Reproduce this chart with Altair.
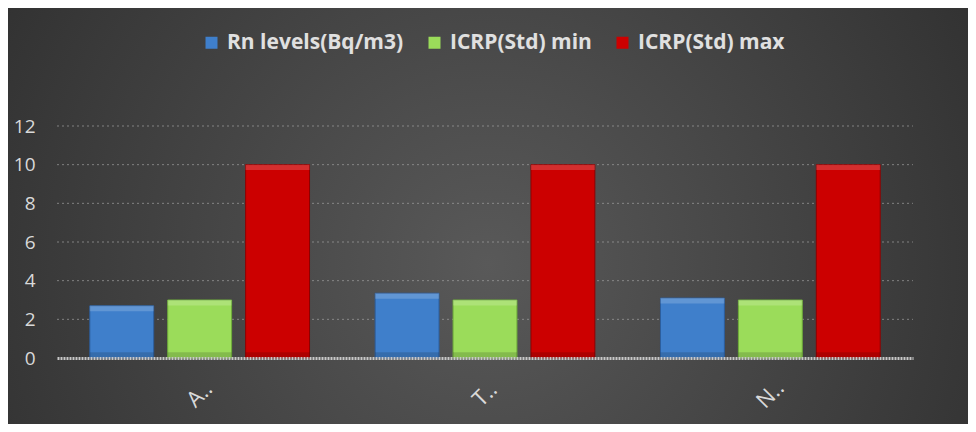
import altair as alt
import pandas as pd

groups = ["A..", "T..", "N.."]
series = ["Rn levels(Bq/m3)", "ICRP(Std) min", "ICRP(Std) max"]
rn_levels = [2.7, 3.35, 3.1]
icrp_min = [3.0, 3.0, 3.0]
icrp_max = [10.0, 10.0, 10.0]
colors = ["#3f7fcb", "#9bdc5a", "#cc0000"]
strokes = ["#2c5e9e", "#6fae3a", "#8f0000"]
y_ticks = [0, 2, 4, 6, 8, 10, 12]

rows = []
for i, g in enumerate(groups):
    for s, vals in zip(series, [rn_levels, icrp_min, icrp_max]):
        rows.append({"group": g, "series": s, "value": vals[i]})
df = pd.DataFrame(rows)
grid_df = pd.DataFrame({"tick": y_ticks[1:]})

W, H = 856, 232
PL, PT, PR, PB = 49, 118, 55, 66
FONT = "Open Sans"

bg = alt.Chart(pd.DataFrame({"a": [0]})).mark_rect(
    fill={
        "gradient": "radial",
        "x1": 0.5, "y1": 0.55, "r1": 0,
        "x2": 0.5, "y2": 0.55, "r2": 0.75,
        "stops": [
            {"offset": 0, "color": "#595959"},
            {"offset": 1, "color": "#262626"},
        ],
    }
).encode(
    x=alt.value(-PL), x2=alt.value(W + PR),
    y=alt.value(-PT), y2=alt.value(H + PB),
)

y_scale = alt.Scale(domain=[0, 12], nice=False, zero=True)
x_scale = alt.Scale(paddingInner=0.23, paddingOuter=0.115)
xo_scale = alt.Scale(paddingInner=0.18, paddingOuter=0)

x_axis = alt.Axis(
    labelAngle=-45, labelAlign="center", labelBaseline="middle",
    labelPadding=36, ticks=False, grid=False, zindex=1,
    labelFont=FONT, labelFontSize=22, labelColor="#d9d9d9",
    domainColor="#c8c8c8", domainWidth=3, domainDash=[2, 1],
)
y_axis = alt.Axis(
    values=y_ticks, domain=False, ticks=False, labelPadding=22,
    grid=False, zindex=1, labelOverlap=False,
    labelFont=FONT, labelFontSize=19, labelColor="#d9d9d9",
)

grid = alt.Chart(grid_df).mark_rule(
    color="#a0a0a0", strokeDash=[2, 3], strokeWidth=1, opacity=0.7
).encode(
    y=alt.Y("tick:Q", scale=y_scale, axis=y_axis, title=None),
    x=alt.value(0), x2=alt.value(W),
)

def xe():
    return alt.X("group:N", sort=groups, title=None, scale=x_scale, axis=x_axis)

def xoe():
    return alt.XOffset("series:N", sort=series, scale=xo_scale)

bars = alt.Chart(df).mark_bar(strokeWidth=1).encode(
    x=xe(),
    xOffset=xoe(),
    y=alt.Y("value:Q", title=None, scale=y_scale, axis=y_axis),
    color=alt.Color(
        "series:N", sort=series,
        scale=alt.Scale(domain=series, range=colors),
        legend=alt.Legend(
            title=None, orient="none", legendX=144, legendY=-94,
            direction="horizontal", symbolType="square", symbolSize=144,
            symbolStrokeWidth=0, labelFont=FONT, labelFontSize=21,
            labelFontWeight="bold", labelColor="#e0e0e0", columnPadding=20,
            labelOffset=5, labelLimit=400,
        ),
    ),
    stroke=alt.Stroke("series:N", sort=series,
                      scale=alt.Scale(domain=series, range=strokes), legend=None),
)

top_hi = alt.Chart(df).transform_calculate(
    y2v="datum.value - 0.28"
).mark_bar(fill="#ffffff", opacity=0.18).encode(
    x=xe(),
    xOffset=xoe(),
    y=alt.Y("value:Q", title=None, scale=y_scale, axis=y_axis),
    y2="y2v:Q",
)

bottom_sh = alt.Chart(df).transform_calculate(
    y2v="0.3"
).mark_bar(fill="#000000", opacity=0.15).encode(
    x=xe(),
    xOffset=xoe(),
    y=alt.Y("y2v:Q", title=None, scale=y_scale, axis=y_axis),
    y2=alt.Y2(datum=0),
)

chart = alt.layer(bg, grid, bars, top_hi, bottom_sh).properties(
    width=W, height=H,
    padding={"left": PL, "top": PT, "right": PR, "bottom": PB},
    autosize=alt.AutoSizeParams(type="none"),
    background="#333333",
).configure_view(stroke=None)

chart.save("out.html", embed_options={"renderer": "svg", "actions": False})
